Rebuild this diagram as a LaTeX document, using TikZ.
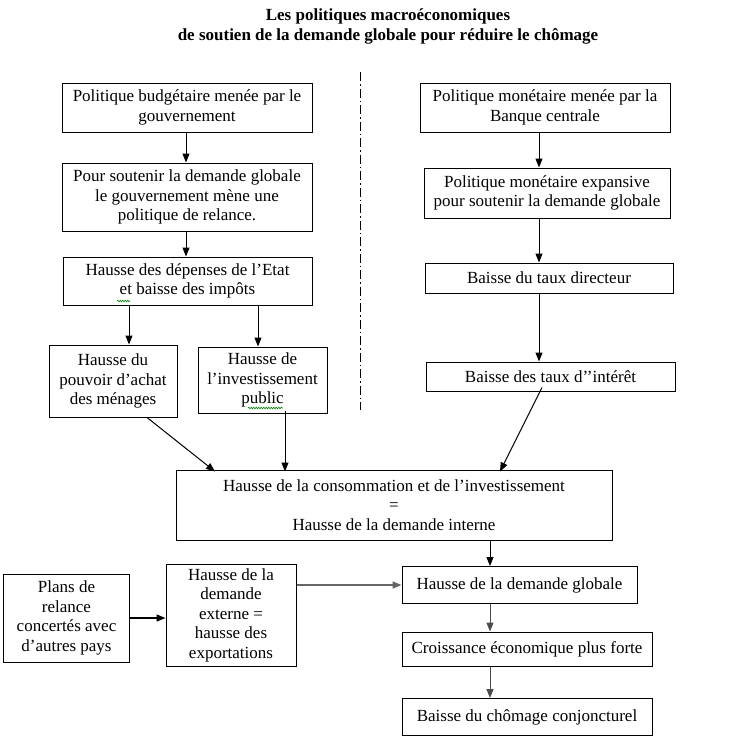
\documentclass[tikz,border=0pt]{standalone}
\usepackage{fontspec}
\setmainfont{Liberation Serif}
\usetikzlibrary{arrows.meta,decorations.pathmorphing}
\begin{document}
\begin{tikzpicture}[x=1pt,y=-1pt,
  box/.style={draw,line width=1pt,inner sep=0pt,align=center,
    font=\fontsize{17}{19.5}\selectfont},
  arr/.style={line width=1pt,-{Triangle[length=9pt,width=7pt]}},
  spell/.style={draw=green!50!black,line width=0.6pt,decorate,
    decoration={snake,amplitude=0.8pt,segment length=2.5pt}}]
\useasboundingbox (0,0) rectangle (729,744);
% title
\node[align=center,font=\bfseries\fontsize{17}{20}\selectfont] (title) at (388,26)
  {Les politiques macroéconomiques\\de soutien de la demande globale pour réduire le chômage};
% left column
\node[box,minimum width=250pt,minimum height=49pt] (B1) at (187,107.5)
  {Politique budgétaire menée par le\\gouvernement};
\node[box,minimum width=250pt,minimum height=68pt] (B2) at (187,197)
  {Pour soutenir la demande globale\\le gouvernement mène une\\politique de relance.};
\node[box,minimum width=249pt,minimum height=48pt] (B3) at (187.5,281)
  {Hausse des dépenses de l’Etat\\et baisse des impôts};
\node[box,minimum width=128pt,minimum height=72pt] (B4) at (113,381)
  {Hausse du\\pouvoir d’achat\\des ménages};
\node[box,minimum width=129pt,minimum height=66pt] (B5) at (262.5,380)
  {Hausse de\\l’investissement\\public};
% right column
\node[box,minimum width=250pt,minimum height=49pt] (R1) at (545,107.5)
  {Politique monétaire menée par la\\Banque centrale};
\node[box,minimum width=246pt,minimum height=50pt] (R2) at (547,193)
  {Politique monétaire expansive\\pour soutenir la demande globale};
\node[box,minimum width=248pt,minimum height=30pt] (R3) at (549,278)
  {Baisse du taux directeur};
\node[box,minimum width=249pt,minimum height=29pt] (R4) at (550.5,376.5)
  {Baisse des taux d’’intérêt};
% centre
\node[box,minimum width=436pt,minimum height=70pt] (C) at (394,505)
  {Hausse de la consommation et de l’investissement\\=\\Hausse de la demande interne};
\node[box,minimum width=235pt,minimum height=37pt] (G1) at (519.5,585)
  {Hausse de la demande globale};
\node[box,minimum width=250pt,minimum height=34pt] (G2) at (527,649)
  {Croissance économique plus forte};
\node[box,minimum width=250pt,minimum height=37pt] (G3) at (527,717)
  {Baisse du chômage conjoncturel};
\node[box,minimum width=126pt,minimum height=88pt] (P) at (66.5,618)
  {Plans de\\relance\\concertés avec\\d’autres pays};
\node[box,minimum width=130pt,minimum height=102pt] (E) at (231,615)
  {Hausse de la\\demande\\externe =\\hausse des\\exportations};
% helper x positions
\coordinate (xl) at (186,0);
\coordinate (xa) at (129,0);
\coordinate (xb) at (258,0);
\coordinate (xc) at (285,0);
\coordinate (xd) at (147,0);
\coordinate (xe) at (215,0);
\coordinate (xr) at (539,0);
\coordinate (xf) at (542,0);
\coordinate (xg) at (500,0);
\coordinate (xm) at (490,0);
% separator
\draw[line width=0.8pt,dash pattern=on 9pt off 3pt on 1.5pt off 3pt] (360,72) -- (360,410);
% arrows left
\draw[arr] (B1.south -| xl) -- (B2.north -| xl);
\draw[arr] (B2.south -| xl) -- (B3.north -| xl);
\draw[arr] (B3.south -| xa) -- (B4.north -| xa);
\draw[arr] (B3.south -| xb) -- (B5.north -| xb);
\draw[arr] (B4.south -| xd) -- ([yshift=-2pt]C.north -| xe);
\draw[arr] ([yshift=3pt]B5.south -| xc) -- ([yshift=-2pt]C.north -| xc);
% arrows right
\draw[arr] (R1.south -| xr) -- (R2.north -| xr);
\draw[arr] (R2.south -| xr) -- (R3.north -| xr);
\draw[arr] (R3.south -| xr) -- (R4.north -| xr);
\draw[arr] ([yshift=4pt]R4.south -| xf) -- ([yshift=-2pt]C.north -| xg);
% bottom
\draw[arr] (C.south -| xm) -- (G1.north -| xm);
\draw[arr,draw=black!70] (G1.south -| xm) -- (G2.north -| xm);
\draw[arr,draw=black!70] (G2.south -| xm) -- (G3.north -| xm);
\draw[arr,line width=1.4pt] (P.east) -- (P.east -| E.west);
\draw[arr,draw=black!60,line width=1.6pt] (E.east |- G1.west) -- (G1.west);
% spell-check squiggles
\draw[spell] (117,301) -- (130,301);
\draw[spell] (248,408) -- (283,408);
\end{tikzpicture}
\end{document}
